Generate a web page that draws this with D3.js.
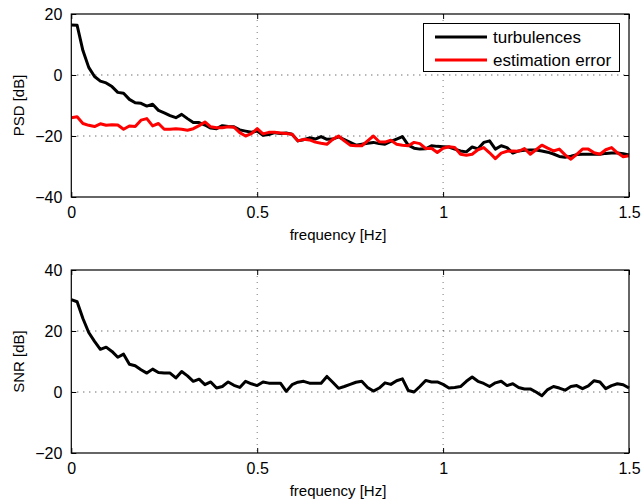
<!DOCTYPE html>
<html>
<head>
<meta charset="utf-8">
<script src="https://cdn.jsdelivr.net/npm/d3@7"></script>
<style>
  html, body { margin: 0; padding: 0; background: #fff; }
  svg { display: block; font-family: "Liberation Sans", Arial, Helvetica, sans-serif; }
</style>
</head>
<body>
<svg id="chart" width="643" height="500"></svg>
<script>
// ---- data ----
const freqStep = 1 / 64; // Hz between samples
const turbulences = [16.4,16.3,8.0,2.5,-0.5,-2.0,-2.6,-3.8,-5.7,-6.0,-8.0,-9.1,-9.3,-10.2,-9.6,-11.6,-12.4,-13.3,-14.0,-12.9,
  -14.3,-15.6,-15.6,-16.4,-17.4,-17.6,-16.6,-16.9,-17.0,-18.0,-18.4,-18.8,-18.4,-19.8,-19.5,-18.9,-19.2,-19.0,-19.4,-21.6,
  -21.2,-20.6,-21.0,-20.2,-21.1,-21.0,-20.3,-21.2,-22.1,-23.0,-22.7,-22.4,-22.1,-22.5,-22.7,-21.8,-21.0,-20.2,-23.0,-24.0,
  -24.3,-24.2,-23.2,-23.4,-23.5,-23.6,-24.3,-24.9,-25.2,-23.6,-24.2,-22.1,-21.6,-24.3,-23.2,-23.8,-25.6,-24.9,-24.7,-24.6,
  -24.6,-24.9,-25.3,-25.9,-26.7,-27.0,-26.6,-26.1,-26.0,-26.0,-26.0,-26.0,-25.7,-25.6,-25.6,-25.8,-26.2];
const estimationError = [-14.0,-13.7,-15.9,-16.5,-16.9,-16.0,-16.5,-16.3,-16.4,-17.8,-16.7,-16.9,-14.8,-14.3,-16.7,-15.9,-17.8,-17.8,-17.6,-17.8,
  -18.1,-17.6,-16.6,-15.4,-17.0,-17.3,-17.3,-17.0,-17.1,-18.9,-20.0,-19.2,-17.6,-19.3,-18.8,-18.8,-19.0,-19.2,-19.4,-21.6,
  -21.1,-21.3,-22.0,-22.4,-22.7,-21.1,-20.0,-21.6,-23.0,-23.2,-23.2,-21.6,-20.0,-21.9,-22.0,-21.4,-22.7,-23.0,-23.2,-22.1,
  -22.5,-24.1,-24.0,-25.4,-24.0,-23.5,-23.8,-26.0,-26.3,-26.0,-24.5,-23.8,-25.5,-27.4,-25.6,-25.0,-24.9,-25.0,-24.1,-26.0,
  -24.5,-23.0,-24.0,-24.9,-24.3,-26.2,-27.6,-26.0,-24.3,-24.3,-25.5,-26.0,-24.5,-23.8,-25.5,-26.8,-26.5];
const snr = [30.3,29.6,24.1,19.5,16.6,14.0,14.7,13.3,11.4,12.4,9.1,8.6,7.3,6.2,7.5,6.4,6.2,6.2,4.6,6.7,
  5.3,3.5,4.2,2.4,3.3,1.3,1.8,3.3,2.2,1.5,3.5,2.7,2.1,3.3,2.9,2.9,2.9,0.2,2.4,3.2,
  3.5,2.9,2.9,2.9,5.1,3.2,1.2,1.8,2.5,3.2,3.5,1.5,0.3,1.3,3.0,2.5,3.7,4.3,0.5,0.0,
  1.8,3.8,3.3,3.3,2.5,1.3,1.5,1.8,3.5,4.9,3.5,2.8,1.8,3.0,3.5,2.1,2.7,1.5,1.0,1.0,
  0.0,-1.2,0.8,1.8,1.3,0.6,1.8,2.1,1.1,2.0,3.7,3.3,1.1,2.1,2.7,2.4,1.3];
const xTicks = [0, 0.5, 1, 1.5];
const xTickLabels = ["0", "0.5", "1", "1.5"];
const yTicksTop = [-40, -20, 0, 20];
const yTicksBottom = [-20, 0, 20, 40];
const legendLabels = ["turbulences", "estimation error"];
const seriesColors = ["#000000", "#ff0000"];

// ---- drawing ----
const svg = d3.select("#chart");
svg.append("rect").attr("width", 643).attr("height", 500).attr("fill", "#fff");

const fmt = v => v < 0 ? "\u2212" + Math.abs(v) : String(v);

function panel(top, bottom, yDomain, yTicks, series, ylabel) {
  const x = d3.scaleLinear().domain([0, 1.5]).range([71.3, 629]);
  const y = d3.scaleLinear().domain(yDomain).range([bottom, top]);
  const g = svg.append("g");

  // grid (dotted)
  xTicks.slice(1, -1).forEach(t => {
    g.append("line").attr("x1", x(t)).attr("x2", x(t)).attr("y1", top).attr("y2", bottom)
      .attr("stroke", "#777").attr("stroke-width", 1).attr("stroke-dasharray", "1,5");
  });
  yTicks.slice(1, -1).forEach(t => {
    g.append("line").attr("x1", x(0)).attr("x2", x(1.5)).attr("y1", y(t)).attr("y2", y(t))
      .attr("stroke", "#333").attr("stroke-width", 1).attr("stroke-dasharray", "1,5");
  });

  // curves
  const line = d3.line().x((d, i) => x(i * freqStep)).y(d => y(d));
  series.forEach((s, k) => {
    g.append("path").datum(s).attr("d", line).attr("fill", "none")
      .attr("stroke", seriesColors[k]).attr("stroke-width", 3)
      .attr("stroke-linejoin", "round").attr("stroke-linecap", "butt");
  });

  // axes with inward ticks
  const tl = 5;
  const axB = d3.axisBottom(x).tickValues(xTicks).tickFormat((d, i) => xTickLabels[i]).tickSizeInner(-tl).tickSizeOuter(0).tickPadding(10);
  const axT = d3.axisTop(x).tickValues(xTicks).tickFormat("").tickSizeInner(-tl).tickSizeOuter(0);
  const axL = d3.axisLeft(y).tickValues(yTicks).tickFormat(fmt).tickSizeInner(-tl).tickSizeOuter(0).tickPadding(9);
  const axR = d3.axisRight(y).tickValues(yTicks).tickFormat("").tickSizeInner(-tl).tickSizeOuter(0);
  [[axB, `translate(0,${bottom})`], [axT, `translate(0,${top})`], [axL, `translate(${x(0)},0)`], [axR, `translate(${x(1.5)},0)`]]
    .forEach(([ax, tr]) => {
      const a = g.append("g").attr("transform", tr).call(ax);
      a.select(".domain").remove();
      a.selectAll("line").attr("stroke", "#000").attr("stroke-width", 1);
      a.selectAll("text").attr("fill", "#000").attr("font-size", 16)
        .attr("font-family", '"Liberation Sans", Arial, Helvetica, sans-serif');
    });
  g.append("rect").attr("x", x(0)).attr("y", top).attr("width", x(1.5) - x(0)).attr("height", bottom - top)
    .attr("fill", "none").attr("stroke", "#000").attr("stroke-width", 1.2);

  // labels
  g.append("text").attr("x", 338).attr("y", bottom + 43).attr("text-anchor", "middle")
    .attr("font-size", 15).text("frequency [Hz]");
  g.append("text").attr("transform", `translate(24,${(top + bottom) / 2}) rotate(-90)`)
    .attr("text-anchor", "middle").attr("font-size", 15).text(ylabel);
  return { x, y, g };
}

panel(14, 197, [-40, 20], yTicksTop, [turbulences, estimationError], "PSD [dB]");
panel(270, 453, [-20, 40], yTicksBottom, [snr], "SNR [dB]");

// legend
const lg = svg.append("g");
lg.append("rect").attr("x", 423.5).attr("y", 23.5).attr("width", 196).attr("height", 48)
  .attr("fill", "#fff").attr("stroke", "#000").attr("stroke-width", 1);
legendLabels.forEach((lab, i) => {
  const yy = 37 + i * 23;
  lg.append("line").attr("x1", 435).attr("x2", 487).attr("y1", yy).attr("y2", yy)
    .attr("stroke", seriesColors[i]).attr("stroke-width", 3);
  lg.append("text").attr("x", 493).attr("y", yy).attr("dy", "0.35em").attr("font-size", 17).text(lab);
});
</script>
</body>
</html>
